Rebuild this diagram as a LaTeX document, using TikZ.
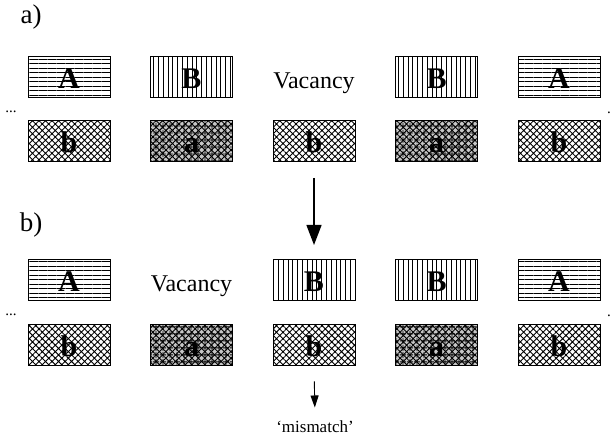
\documentclass[tikz,border=0pt]{standalone}
\usepackage{fontspec}
\setmainfont{Liberation Serif}
\usetikzlibrary{positioning, patterns.meta, arrows.meta}

\begin{document}
\begin{tikzpicture}[x=1pt, y=1pt, node distance=40.5pt]
    \tikzstyle{site} = [rectangle, minimum width=82pt, minimum height=41pt, inner sep=0pt, outer sep=0pt, text height=23pt, text depth=0pt, font=\fontsize{30}{30}\selectfont\bfseries]
    \tikzstyle{siteA} = [site, draw=black, line width=1pt, pattern={Lines[angle=0, distance=4.5pt, line width=0.9pt]}]
    \tikzstyle{siteB} = [site, draw=black, line width=1pt, pattern={Lines[angle=90, distance=4.8pt, line width=0.9pt]}]
    \tikzstyle{siteb} = [site, draw=black, line width=1pt, pattern={Hatch[angle=45, distance=4.6pt, line width=0.9pt]}]
    \tikzstyle{sitea} = [siteb, preaction={fill=black!22}, postaction={pattern={Hatch[angle=0, distance=6.5pt, line width=0.9pt]}}]
    \tikzstyle{vacancy} = [site, font=\fontsize{24}{24}\selectfont]
    \tikzstyle{panel} = [font=\fontsize{27}{27}\selectfont]
    \tikzstyle{ellip} = [font=\fontsize{15}{15}\selectfont, inner sep=0pt]
    \tikzstyle{arrow} = [line width=1.3pt, -{Triangle[width=15pt, length=20pt]}]
    \tikzstyle{smallarrow} = [line width=0.9pt, -{Triangle[width=8pt, length=12pt]}]

    \useasboundingbox (0,0) rectangle (613,446);

    % a) before the jump
    \node (pa) [panel] at (31,429) {a)};
    \node (at1) [siteA] at (69,369) {A};
    \node (at2) [siteB, right=of at1] {B};
    \node (at3) [vacancy, right=of at2] {Vacancy};
    \node (at4) [siteB, right=of at3] {B};
    \node (at5) [siteA, right=of at4] {A};
    \node (ab1) [siteb, below=23.5pt of at1] {b};
    \node (ab2) [sitea, right=of ab1] {a};
    \node (ab3) [siteb, right=of ab2] {b};
    \node (ab4) [sitea, right=of ab3] {a};
    \node (ab5) [siteb, right=of ab4] {b};
    \node (la) [ellip] at (11,334) {...};
    \node (ra) [ellip] at (609,333) {.};

    % b) after the jump
    \node (pb) [panel] at (31,221) {b)};
    \node (bt1) [siteA] at (69,165.5) {A};
    \node (bt2) [vacancy, right=of bt1] {Vacancy};
    \node (bt3) [siteB, right=of bt2] {B};
    \node (bt4) [siteB, right=of bt3] {B};
    \node (bt5) [siteA, right=of bt4] {A};
    \node (bb1) [siteb, below=23.5pt of bt1] {b};
    \node (bb2) [sitea, right=of bb1] {a};
    \node (bb3) [siteb, right=of bb2] {b};
    \node (bb4) [sitea, right=of bb3] {a};
    \node (bb5) [siteb, right=of bb4] {b};
    \node (lb) [ellip] at (11,131) {...};
    \node (rb) [ellip] at (609,130) {.};

    \node (mm) [font=\fontsize{17}{17}\selectfont] at (315,19) {‘mismatch’};

    \draw [arrow, shorten <=16pt, shorten >=15pt] (ab3.south) -- (bt3.north);
    \draw [smallarrow, shorten <=16pt, shorten >=10pt] (bb3.south) -- (mm.north);
\end{tikzpicture}
\end{document}
